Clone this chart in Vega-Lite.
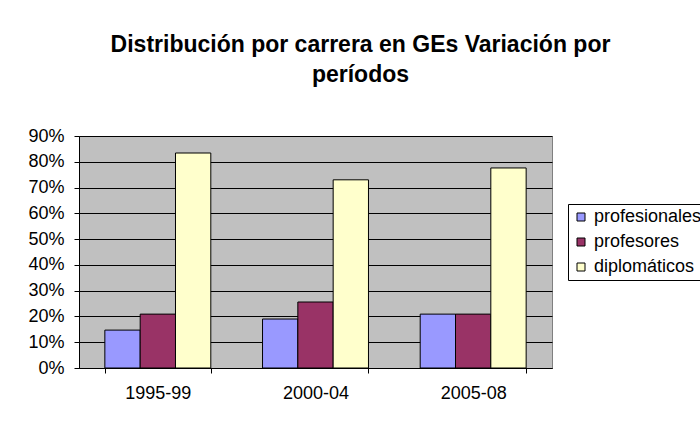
{
  "$schema": "https://vega.github.io/schema/vega-lite/v6.json",
  "autosize": "none",
  "width": 473,
  "height": 232,
  "padding": {"left": 79, "top": 136, "right": 148, "bottom": 53},
  "background": "white",
  "title": {
    "text": ["Distribución por carrera en GEs Variación por", "períodos"],
    "font": "Liberation Sans",
    "fontSize": 23,
    "fontWeight": "bold",
    "color": "black",
    "anchor": "middle",
    "dx": 45,
    "lineHeight": 30,
    "offset": 40
  },
  "data": {
    "values": [
      {"periodo": "1995-99", "carrera": "profesionales", "valor": 0.147},
      {"periodo": "1995-99", "carrera": "profesores", "valor": 0.209},
      {"periodo": "1995-99", "carrera": "diplomáticos", "valor": 0.834},
      {"periodo": "2000-04", "carrera": "profesionales", "valor": 0.19},
      {"periodo": "2000-04", "carrera": "profesores", "valor": 0.256},
      {"periodo": "2000-04", "carrera": "diplomáticos", "valor": 0.73},
      {"periodo": "2005-08", "carrera": "profesionales", "valor": 0.209},
      {"periodo": "2005-08", "carrera": "profesores", "valor": 0.209},
      {"periodo": "2005-08", "carrera": "diplomáticos", "valor": 0.776}
    ]
  },
  "mark": {"type": "bar", "stroke": "black", "strokeWidth": 1},
  "encoding": {
    "x": {
      "field": "periodo",
      "type": "nominal",
      "scale": {"paddingInner": 0.328, "paddingOuter": 0.164},
      "axis": {
        "title": null,
        "labelAngle": 0,
        "tickBand": "extent",
        "grid": false,
        "domainColor": "black",
        "tickColor": "black",
        "tickSize": 5,
        "labelFont": "Liberation Sans",
        "labelFontSize": 18,
        "labelColor": "black",
        "labelPadding": 11
      }
    },
    "xOffset": {
      "field": "carrera",
      "type": "nominal",
      "sort": ["profesionales", "profesores", "diplomáticos"],
      "scale": {"paddingInner": 0, "paddingOuter": 0}
    },
    "y": {
      "field": "valor",
      "type": "quantitative",
      "scale": {"domain": [0, 0.9], "nice": false},
      "axis": {
        "title": null,
        "format": ".0%",
        "values": [0, 0.1, 0.2, 0.3, 0.4, 0.5, 0.6, 0.7, 0.8, 0.9],
        "grid": true,
        "gridColor": "black",
        "gridOpacity": 1,
        "domainColor": "black",
        "tickColor": "black",
        "tickSize": 5,
        "labelFont": "Liberation Sans",
        "labelFontSize": 18,
        "labelColor": "black",
        "labelPadding": 10
      }
    },
    "color": {
      "field": "carrera",
      "type": "nominal",
      "sort": ["profesionales", "profesores", "diplomáticos"],
      "scale": {
        "domain": ["profesionales", "profesores", "diplomáticos"],
        "range": ["#9999FF", "#993366", "#FFFFCC"]
      },
      "legend": {
        "title": null,
        "orient": "none",
        "legendX": 489,
        "legendY": 68,
        "symbolType": "square",
        "symbolSize": 64,
        "symbolStrokeColor": "black",
        "symbolStrokeWidth": 1,
        "symbolOpacity": 1,
        "labelFont": "Liberation Sans",
        "labelFontSize": 18,
        "labelColor": "black",
        "labelOffset": 4,
        "rowPadding": 7,
        "strokeColor": "black",
        "padding": 4,
        "fillColor": "white"
      }
    }
  },
  "config": {
    "view": {"fill": "#C0C0C0", "stroke": "#808080", "strokeWidth": 1}
  }
}
